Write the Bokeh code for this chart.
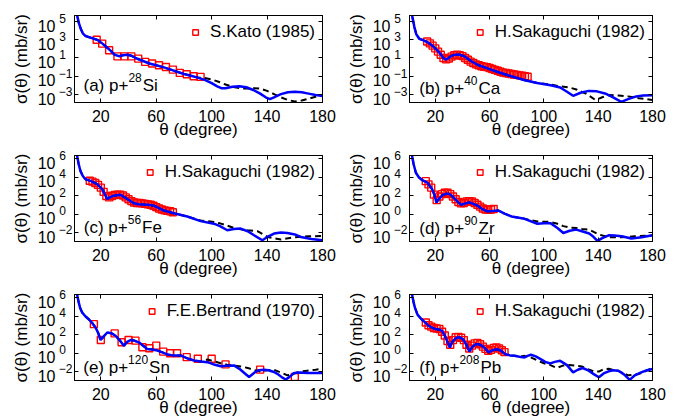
import numpy as np
from bokeh.plotting import figure
from bokeh.layouts import column, row, Spacer
from bokeh.models import (Range1d, FixedTicker, CustomJSTickFormatter, LogAxis, LinearAxis,
                          Legend, LegendItem, Label)
from bokeh.embed import file_html
from bokeh.resources import INLINE

FONT = "Liberation Sans"
X_TICKS = [20, 60, 100, 140, 180]
Y_TICKS_AB = [1e-3, 1e-1, 1e1, 1e3, 1e5]
Y_TICKS_CF = [1e-2, 1e0, 1e2, 1e4, 1e6]

# ---------------- panel (a) p+28Si ----------------
a_blue_deg = [2, 3, 4, 5.5, 7, 9, 12, 15, 18, 21, 24, 27, 30, 33, 36, 39, 42, 45, 50, 55, 60, 65, 70, 75,
              80, 85, 90, 95, 100, 104, 107, 110, 115, 120, 125, 130, 135, 139, 142, 145, 150, 155, 160,
              165, 170, 175, 180]
a_blue_log = [6.5, 5.6, 4.9, 4.2, 3.7, 3.4, 3.25, 3.1, 2.95, 2.6, 2.2, 1.8, 1.35, 1.2, 1.3, 1.35, 1.25, 1.0,
              0.7, 0.4, 0.2, 0.0, -0.25, -0.5, -0.75, -0.95, -1.15, -1.4, -1.75, -2.1, -2.3, -2.32, -2.15,
              -2.1, -2.2, -2.5, -2.9, -3.3, -3.5, -3.3, -2.95, -2.75, -2.7, -2.75, -2.9, -3.05, -3.15]
a_dash_deg = a_blue_deg[:27] + [95, 100, 105, 110, 115, 120, 125, 130, 135, 140, 145, 150, 155, 160, 165,
                                 170, 175, 180]
a_dash_log = a_blue_log[:27] + [-1.2, -1.35, -1.6, -1.9, -2.15, -2.3, -2.35, -2.3, -2.35, -2.6, -2.95, -3.3,
                                 -3.6, -3.75, -3.65, -3.45, -3.25, -3.1]
a_dat_deg = [17, 21, 26, 32, 37, 42, 47, 52, 57, 62, 67, 72, 77, 82, 87, 92]
a_dat_log = [3.0, 2.57, 1.84, 1.18, 1.18, 1.18, 0.93, 0.57, 0.39, 0.2, 0.02, -0.27, -0.63, -0.78, -1.0, -1.07]

# ---------------- panel (b) p+40Ca ----------------
b_blue_deg = [2, 3, 4.6, 6, 8.2, 11, 14, 17, 19, 21, 23.6, 26, 27.5, 29, 31, 33, 35.5, 38, 41.5, 44, 47.5,
              52, 59, 66, 76, 86, 95, 105, 112, 117, 121.5, 127, 133, 139, 145, 151, 157, 162, 167, 173, 180]
b_blue_log = [6.5, 5.6, 4.38, 3.6, 3.11, 2.95, 2.75, 2.45, 2.2, 1.9, 1.48, 1.0, 0.82, 0.9, 1.15, 1.3, 1.37,
              1.35, 1.18, 0.9, 0.56, 0.2, -0.16, -0.53, -1.0, -1.43, -1.73, -1.98, -2.23, -2.7, -3.14, -2.8,
              -2.6, -2.65, -2.88, -3.3, -3.8, -3.5, -3.25, -3.1, -3.07]
b_dash_deg = b_blue_deg[:27] + [105, 112, 118, 124, 131, 138, 143, 148, 155, 162, 170, 180]
b_dash_log = b_blue_log[:27] + [-1.9, -2.1, -2.2, -2.45, -2.9, -3.6, -3.3, -3.05, -3.1, -3.2, -3.4, -3.6]
b_dat_deg = [14, 16, 18, 20, 22, 24, 26, 28, 30, 32, 34, 36, 38, 40, 42, 44, 46, 48, 50, 52, 54, 56, 58,
             60, 62, 64, 66, 68, 70, 72, 74, 76, 78, 80, 82, 84, 86, 88]
b_dat_log = [2.8, 2.6, 2.35, 2.05, 1.7, 1.35, 1.0, 0.85, 0.95, 1.15, 1.3, 1.35, 1.3, 1.2, 1.0, 0.8, 0.6,
             0.45, 0.3, 0.2, 0.1, 0.05, 0.0, -0.1, -0.2, -0.3, -0.4, -0.5, -0.6, -0.65, -0.7, -0.75,
             -0.8, -0.85, -0.9, -0.95, -1.0, -1.05]

# ---------------- panel (c) p+56Fe ----------------
c_blue_deg = [2, 3, 4, 5.3, 7, 8.9, 12.6, 17.4, 21, 23, 24.6, 26.5, 29.4, 34.2, 39.1, 43.8, 47, 51.1, 54,
              58.3, 62, 65.5, 72.7, 82.4, 92, 101.6, 106, 111.3, 116, 120.9, 126, 130.6, 136.6, 141, 145,
              150, 154.7, 160, 164.3, 172, 180]
c_blue_log = [7, 6.2, 5.4, 4.65, 4.1, 3.76, 3.58, 3.23, 2.69, 2.1, 1.63, 1.8, 1.98, 2.09, 1.63, 1.16, 1.05,
              1.02, 1.0, 0.91, 0.65, 0.38, 0.09, -0.26, -0.76, -1.04, -1.3, -1.75, -1.62, -1.57, -1.85,
              -2.29, -2.82, -2.4, -2.1, -2.0, -2.04, -2.2, -2.47, -2.7, -2.82]
c_dash_deg = c_blue_deg[:24] + [92, 101.6, 106, 111.3, 116, 121, 126, 133, 140.5, 150, 160, 170, 180]
c_dash_log = c_blue_log[:24] + [-0.7, -0.85, -1.0, -1.25, -1.5, -1.65, -1.75, -1.85, -2.47, -2.75, -2.5,
                                 -2.4, -2.36]
c_dat_deg = [12, 14, 16, 18, 20, 22, 24, 26, 28, 30, 32, 34, 36, 38, 40, 42, 44, 46, 48, 50, 52, 54, 56,
             58, 60, 62, 64, 66, 68, 70, 72]
c_dat_log = [3.6, 3.5, 3.35, 3.15, 2.85, 2.4, 1.95, 1.8, 1.95, 2.05, 2.1, 2.1, 2.0, 1.8, 1.6, 1.4, 1.25,
             1.2, 1.2, 1.15, 1.1, 1.05, 1.0, 0.9, 0.75, 0.6, 0.5, 0.4, 0.35, 0.3, 0.2]

# ---------------- panel (d) p+90Zr ----------------
d_blue_deg = [2, 3, 4, 5.7, 8, 10.5, 14.1, 17.7, 19.5, 20.8, 22.5, 24.8, 27, 29.6, 32, 34.4, 37, 39.2, 42,
              45.1, 48, 51.1, 54, 58.3, 62, 66.6, 71, 76.2, 85.7, 95.2, 100, 104.8, 110, 114.3, 119, 123.8,
              128, 133.4, 136.5, 139.4, 143, 147.7, 152, 157.3, 164.4, 172, 180]
d_blue_log = [7, 6.2, 5.4, 4.46, 3.95, 3.65, 3.4, 2.69, 2.0, 1.26, 1.6, 1.98, 2.15, 2.22, 2.0, 1.63, 1.25,
              0.99, 1.15, 1.26, 1.1, 0.91, 0.6, 0.3, 0.32, 0.38, 0.05, -0.26, -0.51, -1.04, -1.0, -0.98,
              -1.5, -2.04, -1.8, -1.68, -1.85, -2.1, -2.45, -2.9, -2.6, -2.29, -2.3, -2.39, -2.64, -2.5,
              -2.29]
d_dash_deg = d_blue_deg[:29] + [95.2, 104.8, 110, 114.3, 119, 123.8, 128, 133.4, 137, 140.5, 147.7, 157.3,
                                 166.8, 180]
d_dash_log = d_blue_log[:29] + [-0.8, -0.85, -1.05, -1.3, -1.45, -1.5, -1.6, -1.7, -1.95, -2.2, -2.5, -2.5,
                                 -2.4, -2.3]
d_dat_deg = [13, 15, 17, 19, 21, 23, 25, 27, 29, 31, 33, 35, 37, 39, 41, 43, 45, 47, 49, 51, 53, 55, 57,
             59, 61, 63]
d_dat_log = [3.55, 3.2, 2.85, 2.1, 1.5, 1.9, 2.15, 2.3, 2.3, 2.15, 1.9, 1.6, 1.3, 1.15, 1.2, 1.35, 1.4,
             1.35, 1.2, 1.0, 0.8, 0.6, 0.5, 0.45, 0.5, 0.55]

# ---------------- panel (e) p+120Sn ----------------
e_blue_deg = [2, 3, 4, 5, 6.6, 9, 11.3, 14, 16.2, 18, 19.8, 21.5, 24.6, 27.5, 30.6, 33.5, 36.6, 39, 41.5,
              44, 47.5, 50.5, 53.5, 57, 60.8, 64, 68, 72, 77.6, 82, 87.2, 92, 96.9, 101, 106.5, 111, 116.1,
              120, 124, 127, 131, 134, 137.8, 141, 145, 148, 151, 153.5, 156, 159.5, 164, 169.1, 175, 180]
e_blue_log = [7, 6.2, 5.5, 4.9, 4.36, 3.95, 3.65, 3.2, 2.76, 2.2, 1.41, 1.7, 2.22, 2.15, 1.87, 1.4, 0.8,
              1.2, 1.41, 1.35, 1.16, 0.8, 0.45, 0.38, 0.27, 0.1, -0.15, -0.25, -0.26, -0.55, -0.8, -0.9,
              -0.98, -1.2, -1.43, -1.38, -1.33, -1.7, -2.2, -2.58, -2.1, -1.85, -1.79, -1.85, -2.04, -2.3,
              -2.65, -2.85, -2.6, -2.15, -2.1, -2.15, -2.15, -2.15]
e_dash_deg = e_blue_deg[:32] + [96.9, 101, 106.5, 111, 116, 121, 126, 131, 135.4, 140, 145, 150, 154.7,
                                 159.5, 164, 169, 175, 180]
e_dash_log = e_blue_log[:32] + [-0.7, -0.85, -1.1, -1.25, -1.35, -1.45, -1.6, -1.85, -2.0, -1.85, -1.8,
                                 -2.1, -2.4, -2.2, -2.0, -1.9, -1.8, -1.7]
e_dat_deg = [15, 20, 30, 35, 40, 45, 50, 55, 60, 65, 70, 75, 82, 90, 100, 110, 135, 160]
e_dat_log = [3.12, 1.41, 2.12, 1.16, 1.41, 1.34, 0.62, 0.52, 0.8, 0.16, -0.02, -0.02, -0.44, -0.61, -0.61,
             -1.22, -1.79, -2.58]

# ---------------- panel (f) p+208Pb ----------------
f_blue_deg = [2, 3, 4, 5, 6.9, 9.5, 12.9, 15, 17.7, 20, 22.5, 25, 27.2, 29, 30.8, 32.5, 35.6, 38, 40.4, 43,
              45.1, 47.5, 49.9, 52, 54.7, 57, 59.4, 62, 65.4, 68.5, 71.4, 75, 78.5, 82, 85.7, 88, 90.5, 94,
              97.6, 101, 104.8, 108, 112, 117, 121.5, 125, 128.6, 133, 137, 140.5, 144, 147.7, 151, 154.9,
              159, 163.2, 167, 171.6, 176, 180]
f_blue_log = [7, 6.2, 5.5, 4.9, 4.15, 3.7, 3.26, 2.95, 2.73, 2.6, 2.55, 2.4, 1.84, 1.2, 0.59, 1.2, 1.66,
              1.7, 1.49, 0.9, 0.17, 0.7, 0.95, 0.95, 0.77, 0.45, 0.06, 0.3, 0.42, 0.25, -0.11, -0.25, -0.29,
              -0.4, -0.47, -0.3, -0.18, -0.35, -0.65, -0.95, -1.12, -0.95, -0.84, -1.3, -2.08, -1.8, -1.61,
              -1.9, -2.3, -2.61, -2.2, -1.97, -1.85, -1.9, -2.3, -2.89, -2.4, -2.08, -1.85, -1.71]
f_dash_deg = f_blue_deg[:34] + [85.7, 90, 95.2, 100, 104.8, 109.5, 114, 118.6, 123, 128, 133.4, 137, 140.5,
                                 144, 147.7, 151, 155, 159, 162, 166, 170, 175, 180]
f_dash_log = f_blue_log[:34] + [-0.3, -0.45, -0.8, -1.1, -1.3, -1.6, -1.35, -1.3, -1.35, -1.45, -1.8, -2.0,
                                 -2.0, -1.75, -1.7, -1.8, -1.95, -2.2, -2.4, -2.35, -2.25, -1.95, -1.6]
f_dat_deg = [13, 15, 17, 19, 21, 23, 25, 27, 29, 31, 33, 35, 37, 39, 41, 43, 45, 47, 49, 51, 53, 55, 57,
             59, 61, 63, 65, 67, 69, 71]
f_dat_log = [3.3, 3.0, 2.85, 2.7, 2.65, 2.6, 2.3, 1.9, 1.3, 0.9, 1.4, 1.7, 1.75, 1.65, 1.4, 0.9, 0.5, 0.8,
             1.05, 1.1, 0.95, 0.7, 0.45, 0.25, 0.35, 0.55, 0.6, 0.5, 0.3, 0.1]

# ---------------- helpers ----------------
HELV = {' ': 278, '(': 333, ')': 333, '+': 584, 'a': 556, 'b': 556, 'c': 500, 'd': 556, 'e': 556,
        'f': 278, 'p': 556, 'S': 667, 'i': 222, 'C': 722, 'F': 611, 'Z': 611, 'r': 333, 'n': 556,
        'P': 667}


def text_w(s, size):
    return sum(HELV.get(ch, 556) for ch in s) / 1000.0 * size


EMPTY_JS = "return '';"
EXP_UP = 0.3     # exponent drawn slightly above the tick (decades)
TEN_DOWN = 0.45  # "10" drawn slightly below the tick (decades)
EXP_JS = """
const e = Math.round(Math.log10(tick) - %s);
const s = String(Math.abs(e));
return e < 0 ? '\u2212' + s : s + '\u2007';
""" % EXP_UP
TEN_JS = "return '10';"


def style_axis(ax):
    ax.major_tick_in = 4
    ax.major_tick_out = 0
    ax.minor_tick_in = 0
    ax.minor_tick_out = 0
    ax.axis_line_color = "black"
    ax.major_tick_line_color = "black"
    ax.major_label_text_font = FONT
    ax.major_label_text_font_size = "16px"
    ax.major_label_text_color = "black"
    ax.axis_label_text_font = FONT
    ax.axis_label_text_font_size = "17px"
    ax.axis_label_text_font_style = "normal"
    ax.axis_label_text_color = "black"


def hide_ticks(ax):
    ax.major_tick_in = 0
    ax.major_tick_out = 0
    ax.axis_line_color = None
    ax.major_tick_line_color = None


def panel(width, height, left, right, top, ylo, yhi, yticks, blue_d, blue_l, dash_d, dash_l, dat_d,
          dat_l, legend_name, tag, mass, elem, ann_x, ann_y):
    p = figure(width=width, height=height, x_range=Range1d(1, 180),
               y_range=Range1d(10 ** ylo, 10 ** yhi), y_axis_type="log",
               output_backend="svg", toolbar_location=None,
               min_border_left=left, min_border_right=right, min_border_top=top, min_border_bottom=39)
    p.grid.visible = False
    p.outline_line_color = "black"
    p.outline_line_alpha = 1.0
    p.background_fill_color = "white"
    p.border_fill_color = "white"

    p.xaxis.ticker = FixedTicker(ticks=X_TICKS)
    p.xaxis.axis_label = "θ (degree)"
    for ax in list(p.xaxis) + list(p.yaxis):
        style_axis(ax)
    p.xaxis.major_label_standoff = 7
    p.xaxis.axis_label_standoff = -5

    # inner left axis: tick marks only
    p.yaxis.ticker = FixedTicker(ticks=yticks, minor_ticks=[])
    p.yaxis.formatter = CustomJSTickFormatter(code=EMPTY_JS)
    p.yaxis.major_label_text_font_size = "1px"
    p.yaxis.major_label_standoff = 0

    # exponent labels, then "10" labels, stacked outward
    exp_ax = LogAxis(ticker=FixedTicker(ticks=[t * 10 ** EXP_UP for t in yticks], minor_ticks=[]),
                     formatter=CustomJSTickFormatter(code=EXP_JS))
    style_axis(exp_ax)
    hide_ticks(exp_ax)
    exp_ax.major_label_text_font_size = "12px"
    exp_ax.major_label_standoff = 2
    ten_ax = LogAxis(ticker=FixedTicker(ticks=[t / 10 ** TEN_DOWN for t in yticks], minor_ticks=[]),
                     formatter=CustomJSTickFormatter(code=TEN_JS))
    style_axis(ten_ax)
    hide_ticks(ten_ax)
    ten_ax.major_label_standoff = 0
    ten_ax.axis_label = "σ(θ) (mb/sr)"
    ten_ax.axis_label_standoff = 4
    p.add_layout(exp_ax, "left")
    p.add_layout(ten_ax, "left")

    rax = LogAxis(ticker=FixedTicker(ticks=yticks, minor_ticks=[]),
                  formatter=CustomJSTickFormatter(code=EMPTY_JS))
    tax = LinearAxis(ticker=FixedTicker(ticks=X_TICKS), formatter=CustomJSTickFormatter(code=EMPTY_JS))
    for ax in (rax, tax):
        style_axis(ax)
        ax.major_label_text_font_size = "1px"
        ax.major_label_standoff = 0
    p.add_layout(rax, "right")
    p.add_layout(tax, "above")

    r = p.scatter(dat_d, list(np.power(10.0, dat_l)), marker="square", size=7, fill_color=None,
                  line_color="#ff0000", line_width=1.4)
    p.line(dash_d, list(np.power(10.0, dash_l)), line_color="black", line_width=2, line_dash="6 4")
    p.line(blue_d, list(np.power(10.0, blue_l)), line_color="#0000ff", line_width=2.5)

    leg = Legend(items=[LegendItem(label=legend_name, renderers=[r])], location="top_right",
                 label_text_font=FONT, label_text_font_size="17px", label_text_color="black",
                 glyph_width=14, glyph_height=14, label_standoff=8, padding=5, margin=2,
                 border_line_alpha=0, background_fill_alpha=0)
    p.add_layout(leg)

    fs, fs2 = 17, 12
    main = f"({tag}) p+"
    p.add_layout(Label(x=ann_x, y=10 ** ann_y, text=main, text_font=FONT, text_font_size=f"{fs}px",
                       text_baseline="middle", text_color="black"))
    w1 = text_w(main, fs)
    p.add_layout(Label(x=ann_x, y=10 ** ann_y, x_offset=w1, y_offset=8, text=mass, text_font=FONT,
                       text_font_size=f"{fs2}px", text_baseline="middle", text_color="black"))
    w2 = text_w(mass, fs2)
    p.add_layout(Label(x=ann_x, y=10 ** ann_y, x_offset=w1 + w2 + 1, text=elem, text_font=FONT,
                       text_font_size=f"{fs}px", text_baseline="middle", text_color="black"))
    return p


# left column: 3 px spacer + 337 px figure; right column: 3 px spacer + 336 px figure
pa = panel(337, 141, 71, 18, 15, -3.87, 5.65, Y_TICKS_AB, a_blue_deg, a_blue_log, a_dash_deg, a_dash_log,
           a_dat_deg, a_dat_log, "S.Kato (1985)", "a", "28", "Si", 7.5, -2.0)
pb = panel(336, 141, 59, 27, 15, -3.87, 5.65, Y_TICKS_AB, b_blue_deg, b_blue_log, b_dash_deg, b_dash_log,
           b_dat_deg, b_dat_log, "H.Sakaguchi (1982)", "b", "40", "Ca", 8.2, -2.34)
pc = panel(337, 139, 71, 18, 14, -2.96, 6.32, Y_TICKS_CF, c_blue_deg, c_blue_log, c_dash_deg, c_dash_log,
           c_dat_deg, c_dat_log, "H.Sakaguchi (1982)", "c", "56", "Fe", 7.7, -1.47)
pd = panel(336, 139, 59, 27, 14, -2.96, 6.32, Y_TICKS_CF, d_blue_deg, d_blue_log, d_dash_deg, d_dash_log,
           d_dat_deg, d_dat_log, "H.Sakaguchi (1982)", "d", "90", "Zr", 8.2, -1.57)
pe = panel(337, 139, 71, 18, 14, -2.96, 6.32, Y_TICKS_CF, e_blue_deg, e_blue_log, e_dash_deg, e_dash_log,
           e_dat_deg, e_dat_log, "F.E.Bertrand (1970)", "e", "120", "Sn", 7.3, -1.57)
pf = panel(336, 139, 59, 27, 14, -2.96, 6.32, Y_TICKS_CF, f_blue_deg, f_blue_log, f_dash_deg, f_dash_log,
           f_dat_deg, f_dat_log, "H.Sakaguchi (1982)", "f", "208", "Pb", 8.2, -1.6)


def prow(p1, p2, h):
    return row(Spacer(width=3, height=h), p1, Spacer(width=3, height=h), p2, spacing=0)


layout = column(prow(pa, pb, 141), prow(pc, pd, 139), prow(pe, pf, 139), spacing=0)

with open("out.html", "w") as fh:
    fh.write(file_html(layout, INLINE))
